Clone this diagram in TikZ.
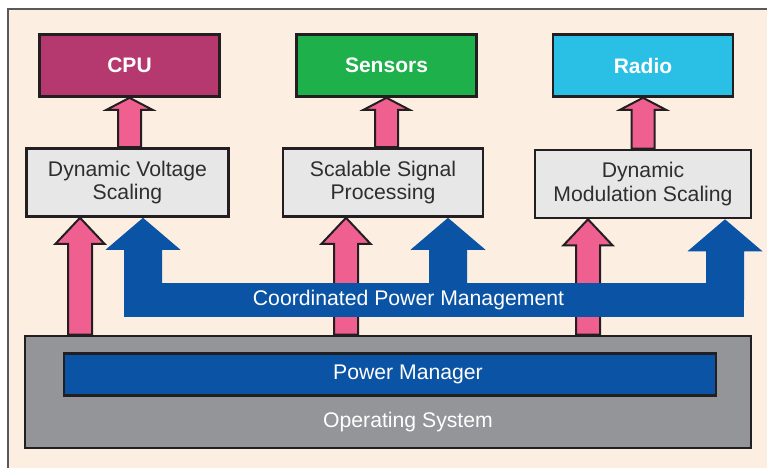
\documentclass[tikz,border=0pt]{standalone}
\usepackage{fontspec}
\setmainfont{Liberation Sans}
\usetikzlibrary{calc}
\definecolor{paper}{HTML}{FDEEE2}
\definecolor{edge}{HTML}{231F20}
\definecolor{ink}{HTML}{2E2E2E}
\definecolor{cpured}{HTML}{B5386F}
\definecolor{sensgreen}{HTML}{1DB04B}
\definecolor{radiocyan}{HTML}{2AC0E6}
\definecolor{techgray}{HTML}{E7E7E7}
\definecolor{osgray}{HTML}{939598}
\definecolor{pmblue}{HTML}{0B53A4}
\definecolor{rose}{HTML}{EF6090}
\tikzset{%
  unit/.style      = {shape=rectangle, draw=edge, line width=1.3pt,%
                      minimum width=90pt, minimum height=31pt,%
                      text=white, font=\bfseries\fontsize{10.5}{11.5}\selectfont},%
  tech/.style      = {shape=rectangle, draw=edge, line width=1.3pt,%
                      fill=techgray, align=center, text=ink,%
                      minimum height=34pt},%
  layer/.style     = {shape=rectangle, draw=edge, line width=1.3pt, text=white},%
  pinkarrow/.style = {draw=edge, line width=1pt, fill=rose, line join=miter},%
  bluearrow/.style = {fill=pmblue}%
}
% block arrow: style, base, tip, half shaft, half head, head length
\newcommand{\fatarrow}[6]{%
  \path[#1] let \p1=(#2), \p2=(#3) in
    (\x1-#4,\y1) -- (\x1-#4,\y2-#6) -- (\x1-#5,\y2-#6) -- (\x2,\y2)
    -- (\x1+#5,\y2-#6) -- (\x1+#4,\y2-#6) -- (\x1+#4,\y1) -- cycle;}

\begin{document}
\begin{tikzpicture}[x=0.5pt,y=-0.5pt,
	every node/.style = {font=\fontsize{10.6}{11.6}\selectfont}]
	\useasboundingbox (0,0) rectangle (767,467);
	\clip (0,0) rectangle (767,467);
	\draw [fill=paper,draw=black!65,line width=0.8pt] (8,9) rectangle (775,475);

	\node [layer,fill=osgray,minimum width=363pt,minimum height=56pt,
		label={[xshift=10pt,yshift=-15pt,text=white]center:Operating System}]
		(os) at (388,392) {};
	\node [layer,fill=pmblue,minimum width=326pt,minimum height=21pt,
		label={[xshift=9pt,text=white]center:Power Manager}]
		(pm) at (390,374.5) {};

	\node [unit,fill=cpured] (cpu) at (129.5,65.5) {CPU};
	\node [unit,fill=sensgreen] (sensors) at (386.5,65.5) {Sensors};
	\node [unit,fill=radiocyan] (radio) at (643,65.5) {Radio};

	\node [tech,minimum width=101pt] (dvs) at (127.5,182.5) {Dynamic Voltage\\Scaling};
	\node [tech,minimum width=100pt] (ssp) at (383,182.5) {Scalable Signal\\Processing};
	\node [tech,minimum width=108pt] (dms) at (643,184) {Dynamic\\Modulation Scaling};

	\foreach \tgt/\lane in {dvs/80, ssp/346, dms/588}{
		\coordinate (lane) at (\lane,0);
		\fatarrow{pinkarrow}{os.north -| lane}{\tgt.south -| lane}{6pt}{12.25pt}{13pt}
	}

	\node [fill=pmblue,minimum width=310pt,minimum height=17pt,inner sep=0pt]
		(cpm) at (434,300) {};
	\foreach \tgt/\lane in {dvs/143, ssp/448, dms/725}{
		\coordinate (lane) at (\lane,0);
		\fatarrow{bluearrow}{cpm.center -| lane}{\tgt.south -| lane}{9.5pt}{18.75pt}{16pt}
	}
	\node [text=white] (cpmtext) at (408.5,300) {Coordinated Power Management};

	\foreach \src/\tgt in {dvs/cpu, ssp/sensors, dms/radio}{
		\fatarrow{pinkarrow}{\src.north -| \tgt.south}{\tgt.south}{5.75pt}{11.5pt}{6pt}
	}
\end{tikzpicture}
\end{document}
